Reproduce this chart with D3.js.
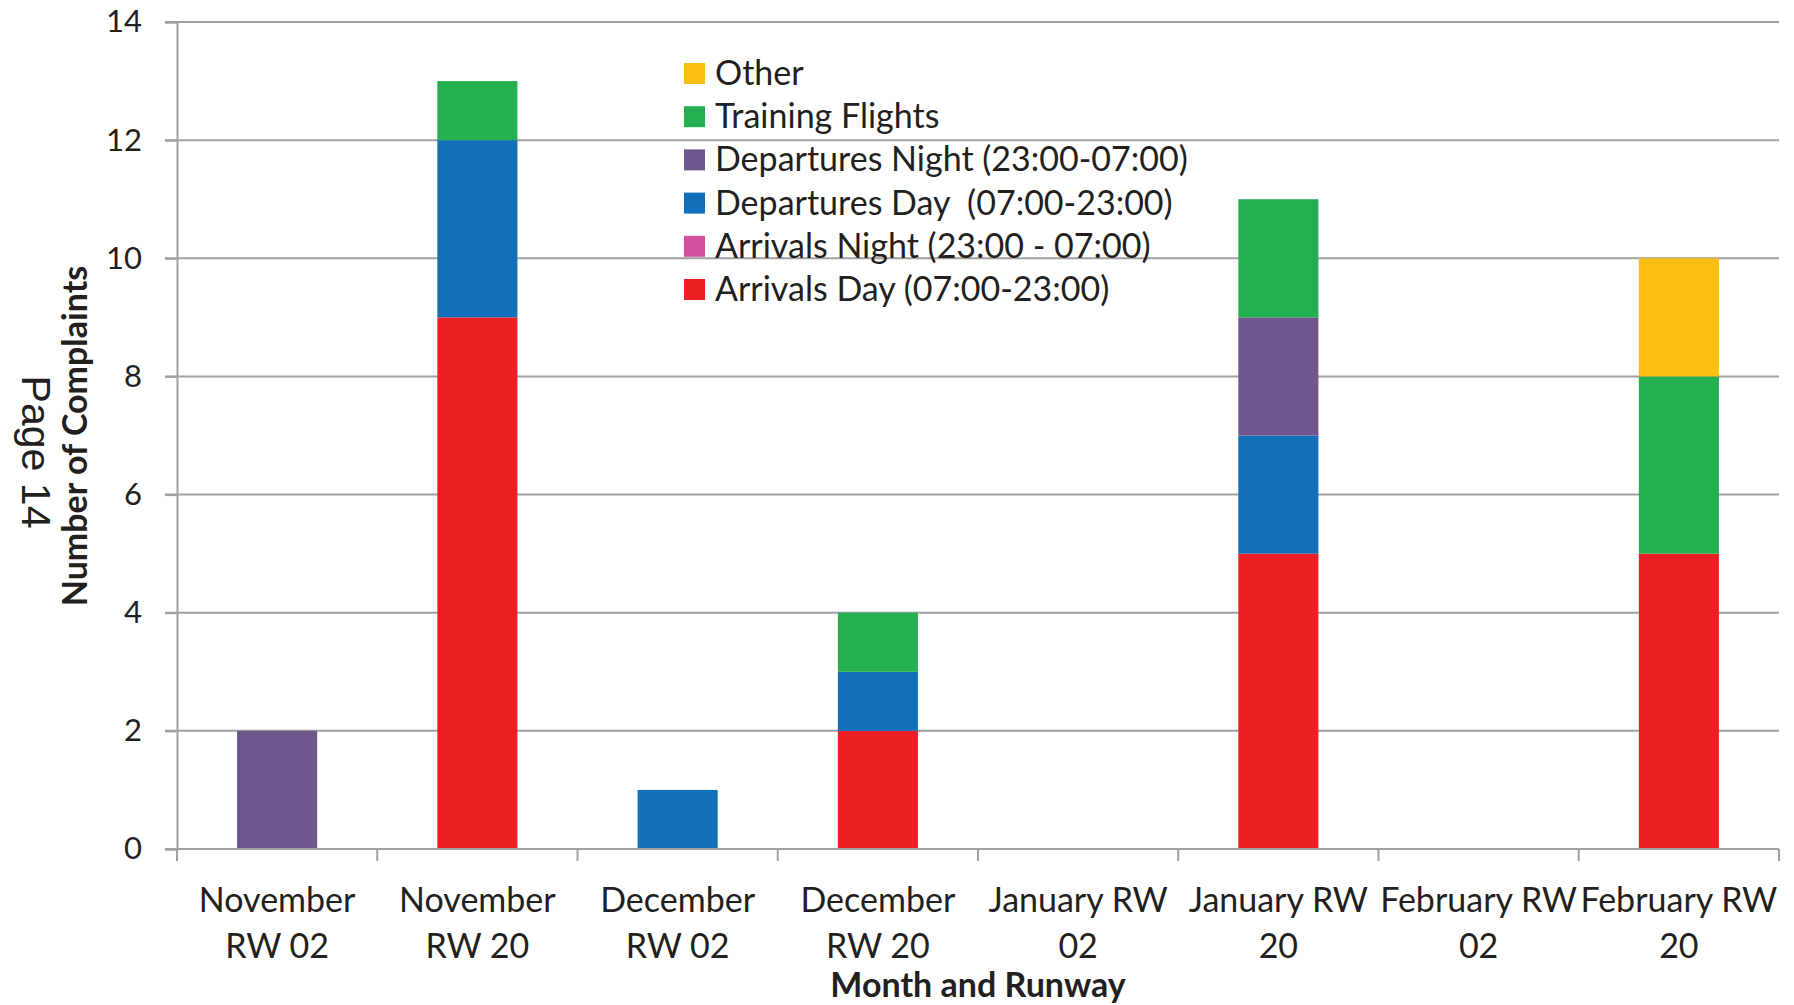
<!DOCTYPE html>
<html>
<head>
<meta charset="utf-8">
<script src="https://cdn.jsdelivr.net/npm/d3@7"></script>
<style>
  body { margin: 0; background: #fff; }
  text { fill: #231f20; white-space: pre; }
</style>
</head>
<body>
<div class="chart"></div>
<script>
// categories (month + runway), each label split in two lines
var categories = ["Nov RW02", "Nov RW20", "Dec RW02", "Dec RW20", "Jan RW02", "Jan RW20", "Feb RW02", "Feb RW20"];
var categoryLines = [
  ["November", "RW 02"], ["November", "RW 20"], ["December", "RW 02"], ["December", "RW 20"],
  ["January RW", "02"], ["January RW", "20"], ["February RW", "02"], ["February RW", "20"]
];

// series, bottom to top
var seriesNames = ["Arrivals Day (07:00-23:00)", "Arrivals Night (23:00 - 07:00)", "Departures Day  (07:00-23:00)",
                   "Departures Night (23:00-07:00)", "Training Flights", "Other"];
var seriesColors = ["#ee1f24", "#d4509e", "#126fba", "#6f578e", "#24b050", "#fbbf14"];

var arrivalsDay     = [0, 9, 0, 2, 0, 5, 0, 5];
var arrivalsNight   = [0, 0, 0, 0, 0, 0, 0, 0];
var departuresDay   = [0, 3, 1, 1, 0, 2, 0, 0];
var departuresNight = [2, 0, 0, 0, 0, 2, 0, 0];
var training        = [0, 1, 0, 1, 0, 2, 0, 3];
var other           = [0, 0, 0, 0, 0, 0, 0, 2];

var yTicks = [0, 2, 4, 6, 8, 10, 12, 14];

var W = 1794, H = 1005;
var margin = {top: 22, right: 15, bottom: 156, left: 177};

var svg = d3.select(".chart").append("svg")
    .attr("width", W)
    .attr("height", H);

var seriesValues = [arrivalsDay, arrivalsNight, departuresDay, departuresNight, training, other];
var table = categories.map(function(c, i) {
  var row = {cat: c};
  seriesNames.forEach(function(s, j) { row[s] = seriesValues[j][i]; });
  return row;
});
var stacked = d3.stack().keys(seriesNames)(table);

var x = d3.scaleBand()
    .domain(categories)
    .range([margin.left, W - margin.right])
    .paddingInner(0.6)
    .paddingOuter(0.3);

var y = d3.scaleLinear()
    .domain([0, 14])
    .range([H - margin.bottom, margin.top]);

// gridlines
svg.append("g")
  .selectAll("line")
  .data(yTicks.slice(1))
  .enter().append("line")
    .attr("x1", margin.left - 12)
    .attr("x2", W - margin.right)
    .attr("y1", function(d) { return y(d); })
    .attr("y2", function(d) { return y(d); })
    .attr("stroke", "#a0a0a0")
    .attr("stroke-width", 2);

// bars
svg.append("g")
  .selectAll("g")
  .data(stacked)
  .enter().append("g")
    .attr("fill", function(d, i) { return seriesColors[i]; })
  .selectAll("rect")
  .data(function(d) { return d.filter(function(p) { return p[1] > p[0]; }); })
  .enter().append("rect")
    .attr("x", function(d) { return x(d.data.cat); })
    .attr("width", x.bandwidth())
    .attr("y", function(d) { return y(d[1]); })
    .attr("height", function(d) { return y(d[0]) - y(d[1]); });

// y axis
var yAxis = svg.append("g")
    .attr("transform", "translate(" + margin.left + ",0)")
    .call(d3.axisLeft(y).tickValues(yTicks).tickSize(12).tickPadding(23));
yAxis.select(".domain").attr("stroke", "#a0a0a0").attr("stroke-width", 2);
yAxis.selectAll(".tick line").attr("stroke", "#a0a0a0").attr("stroke-width", 2);
yAxis.selectAll(".tick text")
    .style("font-family", "Lato")
    .style("font-size", "31px")
    .attr("fill", "#231f20");

// x axis: baseline + ticks at category boundaries
var step = x.step();
var bounds = d3.range(categories.length + 1).map(function(i) { return margin.left + i * step; });
var xg = svg.append("g");
xg.append("line")
    .attr("x1", margin.left - 12).attr("x2", W - margin.right)
    .attr("y1", y(0)).attr("y2", y(0))
    .attr("stroke", "#a0a0a0").attr("stroke-width", 2);
xg.selectAll("line.tk")
  .data(bounds)
  .enter().append("line")
    .attr("class", "tk")
    .attr("x1", function(d) { return d; }).attr("x2", function(d) { return d; })
    .attr("y1", y(0)).attr("y2", y(0) + 12)
    .attr("stroke", "#a0a0a0").attr("stroke-width", 2);

var labels = xg.selectAll("text.cat")
  .data(categories)
  .enter().append("text")
    .attr("class", "cat")
    .attr("text-anchor", "middle")
    .style("font-family", "Lato")
    .style("font-size", "34px");
labels.each(function(c, i) {
  var t = d3.select(this);
  categoryLines[i].forEach(function(line, k) {
    t.append("tspan")
      .attr("x", x(c) + x.bandwidth() / 2)
      .attr("y", y(0) + 63 + k * 46)
      .text(line);
  });
});

// axis titles
svg.append("text")
    .attr("x", (margin.left + W - margin.right) / 2)
    .attr("y", 997)
    .attr("text-anchor", "middle")
    .style("font-family", "Lato")
    .style("font-weight", "bold")
    .style("font-size", "34px")
    .text("Month and Runway");

svg.append("text")
    .attr("transform", "translate(87,436) rotate(-90)")
    .attr("text-anchor", "middle")
    .style("font-family", "Lato")
    .style("font-weight", "bold")
    .style("font-size", "34px")
    .text("Number of Complaints");

svg.append("text")
    .attr("transform", "translate(22,452) rotate(90)")
    .attr("text-anchor", "middle")
    .style("font-family", "Liberation Sans")
    .style("font-size", "40px")
    .attr("textLength", 153)
    .attr("lengthAdjust", "spacingAndGlyphs")
    .text("Page 14");

// legend (top entry first)
var legendItems = seriesNames.map(function(s, i) { return {name: s, color: seriesColors[i]}; }).reverse();
var legend = svg.append("g")
    .attr("transform", "translate(684,73)");
var li = legend.selectAll("g")
  .data(legendItems)
  .enter().append("g")
    .attr("transform", function(d, i) { return "translate(0," + (i * 43.2) + ")"; });
li.append("rect")
    .attr("x", 0).attr("y", -10)
    .attr("width", 21).attr("height", 21)
    .attr("fill", function(d) { return d.color; });
li.append("text")
    .attr("x", 31).attr("y", 12)
    .style("font-family", "Lato")
    .style("font-size", "34px")
    .text(function(d) { return d.name; });
</script>
</body>
</html>
